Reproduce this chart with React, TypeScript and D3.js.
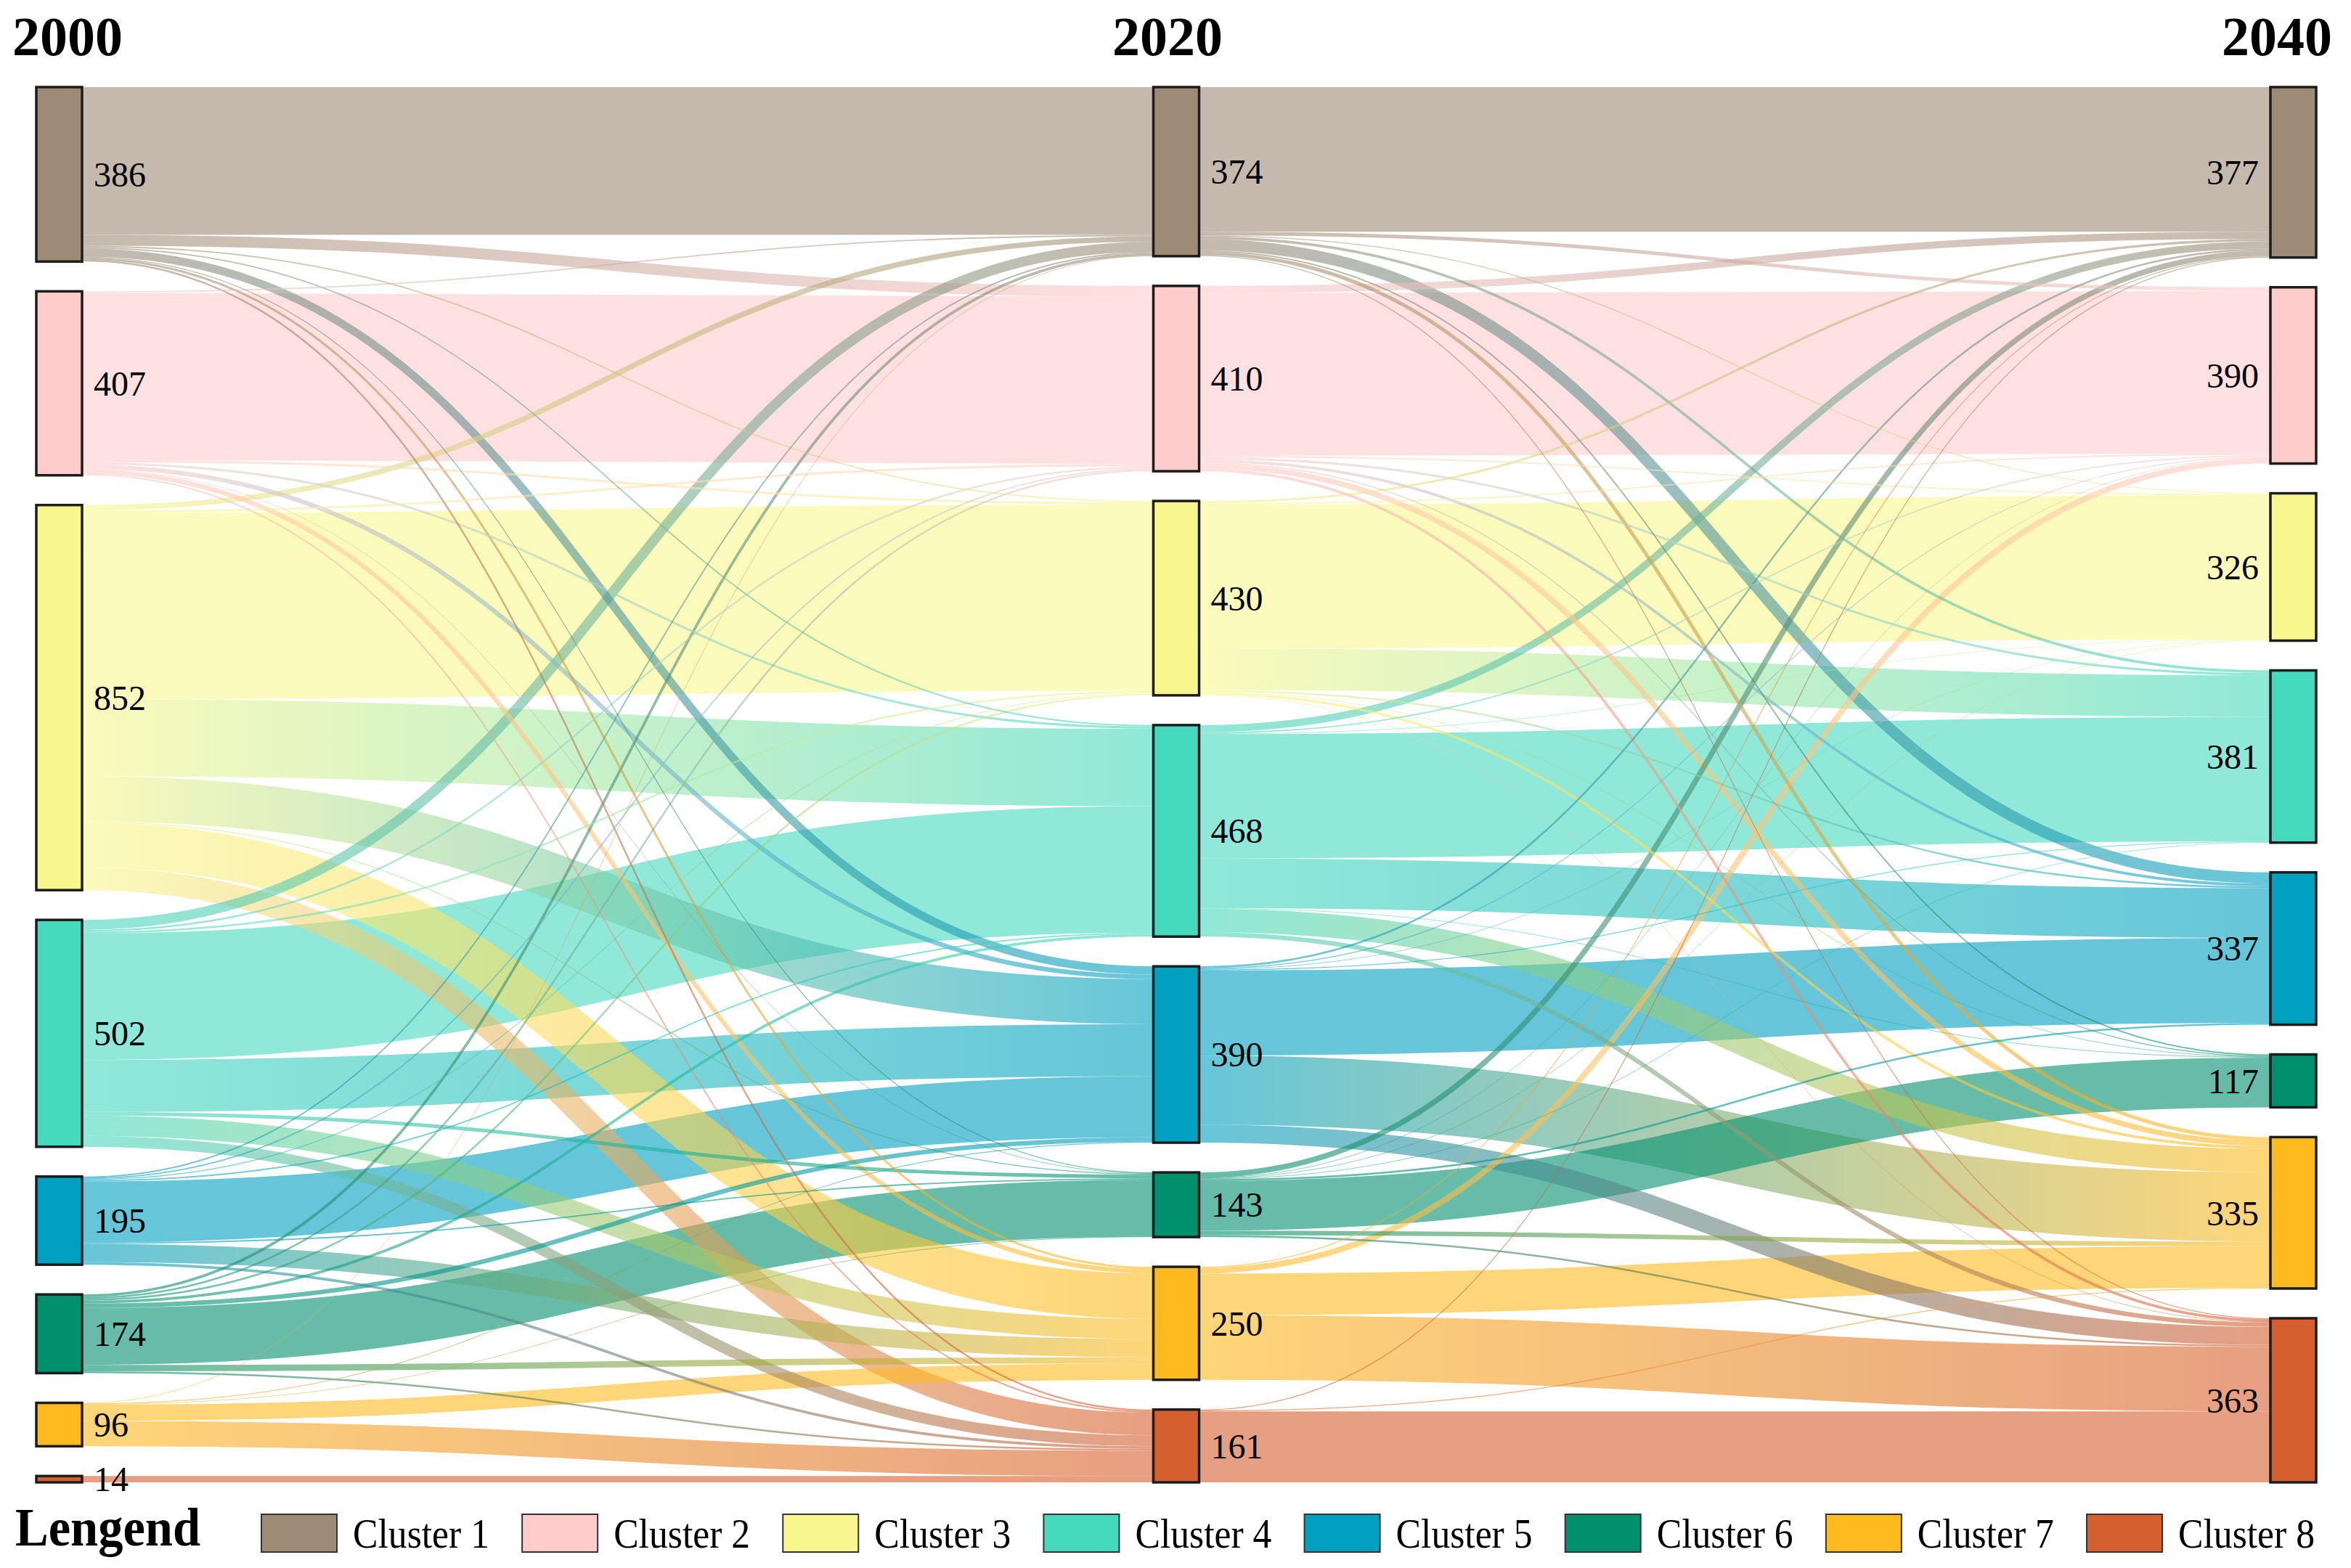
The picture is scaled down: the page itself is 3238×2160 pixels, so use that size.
import { useEffect, useRef } from 'react';
import * as d3 from 'd3';

// ─── Data ──────────────────────────────────────────────────

const years = ['2000', '2020', '2040'];
const clusters = ['Cluster 1', 'Cluster 2', 'Cluster 3', 'Cluster 4', 'Cluster 5', 'Cluster 6', 'Cluster 7', 'Cluster 8'];
const clusterColors = ['#9E8B76', '#FFCCCC', '#F8F78E', '#45D9BE', '#00A0C0', '#00906E', '#FFBA1F', '#D65F2F'];

const nodes2000 = [386, 407, 852, 502, 195, 174, 96, 14];
const nodes2020 = [374, 410, 430, 468, 390, 143, 250, 161];
const nodes2040 = [377, 390, 326, 381, 337, 117, 335, 363];

// rows = source cluster, columns = target cluster
const flows2000to2020 = [
  [327, 24, 3, 3, 18, 2, 5, 4],
  [3, 370, 5, 5, 10, 1, 10, 3],
  [12, 5, 412, 171, 100, 2, 100, 50],
  [22, 4, 4, 280, 115, 8, 45, 24],
  [3, 3, 2, 3, 135, 3, 40, 6],
  [6, 4, 4, 6, 10, 126, 14, 4],
  [1, 0, 0, 0, 2, 1, 36, 56],
  [0, 0, 0, 0, 0, 0, 0, 14],
];

const flows2020to2040 = [
  [320, 8, 2, 6, 25, 3, 8, 2],
  [16, 360, 3, 5, 6, 2, 12, 6],
  [5, 3, 318, 92, 4, 1, 6, 1],
  [16, 3, 1, 275, 110, 1, 52, 10],
  [4, 2, 1, 2, 188, 0, 153, 40],
  [12, 1, 1, 1, 4, 110, 10, 4],
  [2, 13, 0, 0, 0, 0, 92, 143],
  [2, 0, 0, 0, 0, 0, 2, 157],
];

// ─── Layout constants ──────────────────────────────────────

const W = 3238;
const H = 2160;
const TOP = 120;
const BOTTOM = 2042;
const NODE_W = 63;
const PAD = 41;
const SERIF = '"Liberation Serif", "Times New Roman", serif';

interface NodeBox { c: number; i: number; v: number; x0: number; x1: number; y0: number; y1: number }
interface LinkBox { id: string; s: number; t: number; w: number; xs: number; ys: number; xt: number; yt: number }

export default function App() {
  const svgRef = useRef<SVGSVGElement>(null);

  useEffect(() => {
    if (!svgRef.current) return;
    const svg = d3.select(svgRef.current);
    svg.selectAll('*').remove();

    const columns = [nodes2000, nodes2020, nodes2040];
    const flows = [flows2000to2020, flows2020to2040];
    const total = d3.sum(nodes2000);
    const ky = (BOTTOM - TOP - (clusters.length - 1) * PAD) / total;

    const x = d3.scaleLinear().domain([0, 2]).range([50, 3127]);
    const h = d3.scaleLinear().domain([0, total]).range([0, total * ky]);

    // node boxes
    const layout: NodeBox[][] = columns.map((vals, c) => {
      let y = TOP;
      return vals.map((v, i) => {
        const n = { c, i, v, x0: x(c), x1: x(c) + NODE_W, y0: y, y1: y + h(v) };
        y += h(v) + PAD;
        return n;
      });
    });

    // link bands, stacked in cluster order on both ends
    const links: LinkBox[] = [];
    flows.forEach((m, c) => {
      const srcOff = layout[c].map((n) => n.y0);
      const tgtOff = layout[c + 1].map((n) => n.y0);
      m.forEach((row, s) => row.forEach((v, t) => {
        if (!v) return;
        const w = h(v);
        const ys = srcOff[s] + w / 2;
        srcOff[s] += w;
        const yt = tgtOff[t] + w / 2;
        tgtOff[t] += w;
        links.push({ id: `lg-${c}-${s}-${t}`, s, t, w, xs: layout[c][s].x1, ys, xt: layout[c + 1][t].x0, yt });
      }));
    });

    svg.append('rect').attr('width', W).attr('height', H).attr('fill', '#fff');

    const defs = svg.append('defs');
    links.forEach((l) => {
      const g = defs.append('linearGradient')
        .attr('id', l.id)
        .attr('gradientUnits', 'userSpaceOnUse')
        .attr('x1', l.xs).attr('x2', l.xt).attr('y1', 0).attr('y2', 0);
      g.append('stop').attr('offset', '0%').attr('stop-color', clusterColors[l.s]);
      g.append('stop').attr('offset', '100%').attr('stop-color', clusterColors[l.t]);
    });

    const linkGen = d3.linkHorizontal<{ source: [number, number]; target: [number, number] }, [number, number]>()
      .source((d) => d.source)
      .target((d) => d.target);

    // big bands first so thin threads stay visible on top
    const ordered = [...links].sort((a, b) => b.w - a.w);
    svg.append('g').selectAll('path')
      .data(ordered)
      .join('path')
      .attr('d', (d) => linkGen({ source: [d.xs, d.ys], target: [d.xt, d.yt] }))
      .attr('fill', 'none')
      .attr('stroke', (d) => `url(#${d.id})`)
      .attr('stroke-opacity', 0.6)
      .attr('stroke-width', (d) => Math.max(0.8, d.w));

    // nodes
    const nodeG = svg.append('g');
    layout.flat().forEach((n) => {
      nodeG.append('rect')
        .attr('x', n.x0).attr('y', n.y0)
        .attr('width', NODE_W).attr('height', Math.max(2, n.y1 - n.y0))
        .attr('fill', clusterColors[n.i])
        .attr('stroke', '#1c1c1c')
        .attr('stroke-width', 3.5);

      const right = n.c < 2;
      nodeG.append('text')
        .attr('x', right ? n.x1 + 16 : n.x0 - 16)
        .attr('y', (n.y0 + n.y1) / 2)
        .attr('dy', '0.35em')
        .attr('text-anchor', right ? 'start' : 'end')
        .attr('font-family', SERIF)
        .attr('font-size', 48)
        .attr('fill', '#000')
        .text(n.v);
    });

    // year headers (first left-aligned, middle centred, last right-aligned)
    const headerX = [17, 1608, 3212];
    const headerAnchor = ['start', 'middle', 'end'];
    years.forEach((yr, c) => {
      svg.append('text')
        .attr('x', headerX[c])
        .attr('y', 76)
        .attr('text-anchor', headerAnchor[c])
        .attr('font-family', SERIF)
        .attr('font-weight', 'bold')
        .attr('font-size', 76)
        .attr('fill', '#000')
        .text(yr);
    });

    // legend
    const legend = svg.append('g');
    legend.append('text')
      .attr('x', 21).attr('y', 2129)
      .attr('font-family', SERIF)
      .attr('font-weight', 'bold')
      .attr('font-size', 74)
      .attr('textLength', 255)
      .attr('lengthAdjust', 'spacingAndGlyphs')
      .text('Lengend');

    const lx = d3.scaleLinear().domain([0, clusters.length - 1]).range([360, 2874]);
    clusters.forEach((name, i) => {
      legend.append('rect')
        .attr('x', lx(i)).attr('y', 2086)
        .attr('width', 104).attr('height', 52)
        .attr('fill', clusterColors[i])
        .attr('stroke', '#333')
        .attr('stroke-width', 2);
      legend.append('text')
        .attr('x', lx(i) + 126).attr('y', 2132)
        .attr('font-family', SERIF)
        .attr('font-size', 56)
        .attr('textLength', 188)
        .attr('lengthAdjust', 'spacingAndGlyphs')
        .text(name);
    });
  }, []);

  return (
    <div style={{ position: 'absolute', left: 0, top: 0 }}>
      <svg ref={svgRef} width={W} height={H} style={{ display: 'block' }} />
    </div>
  );
}
